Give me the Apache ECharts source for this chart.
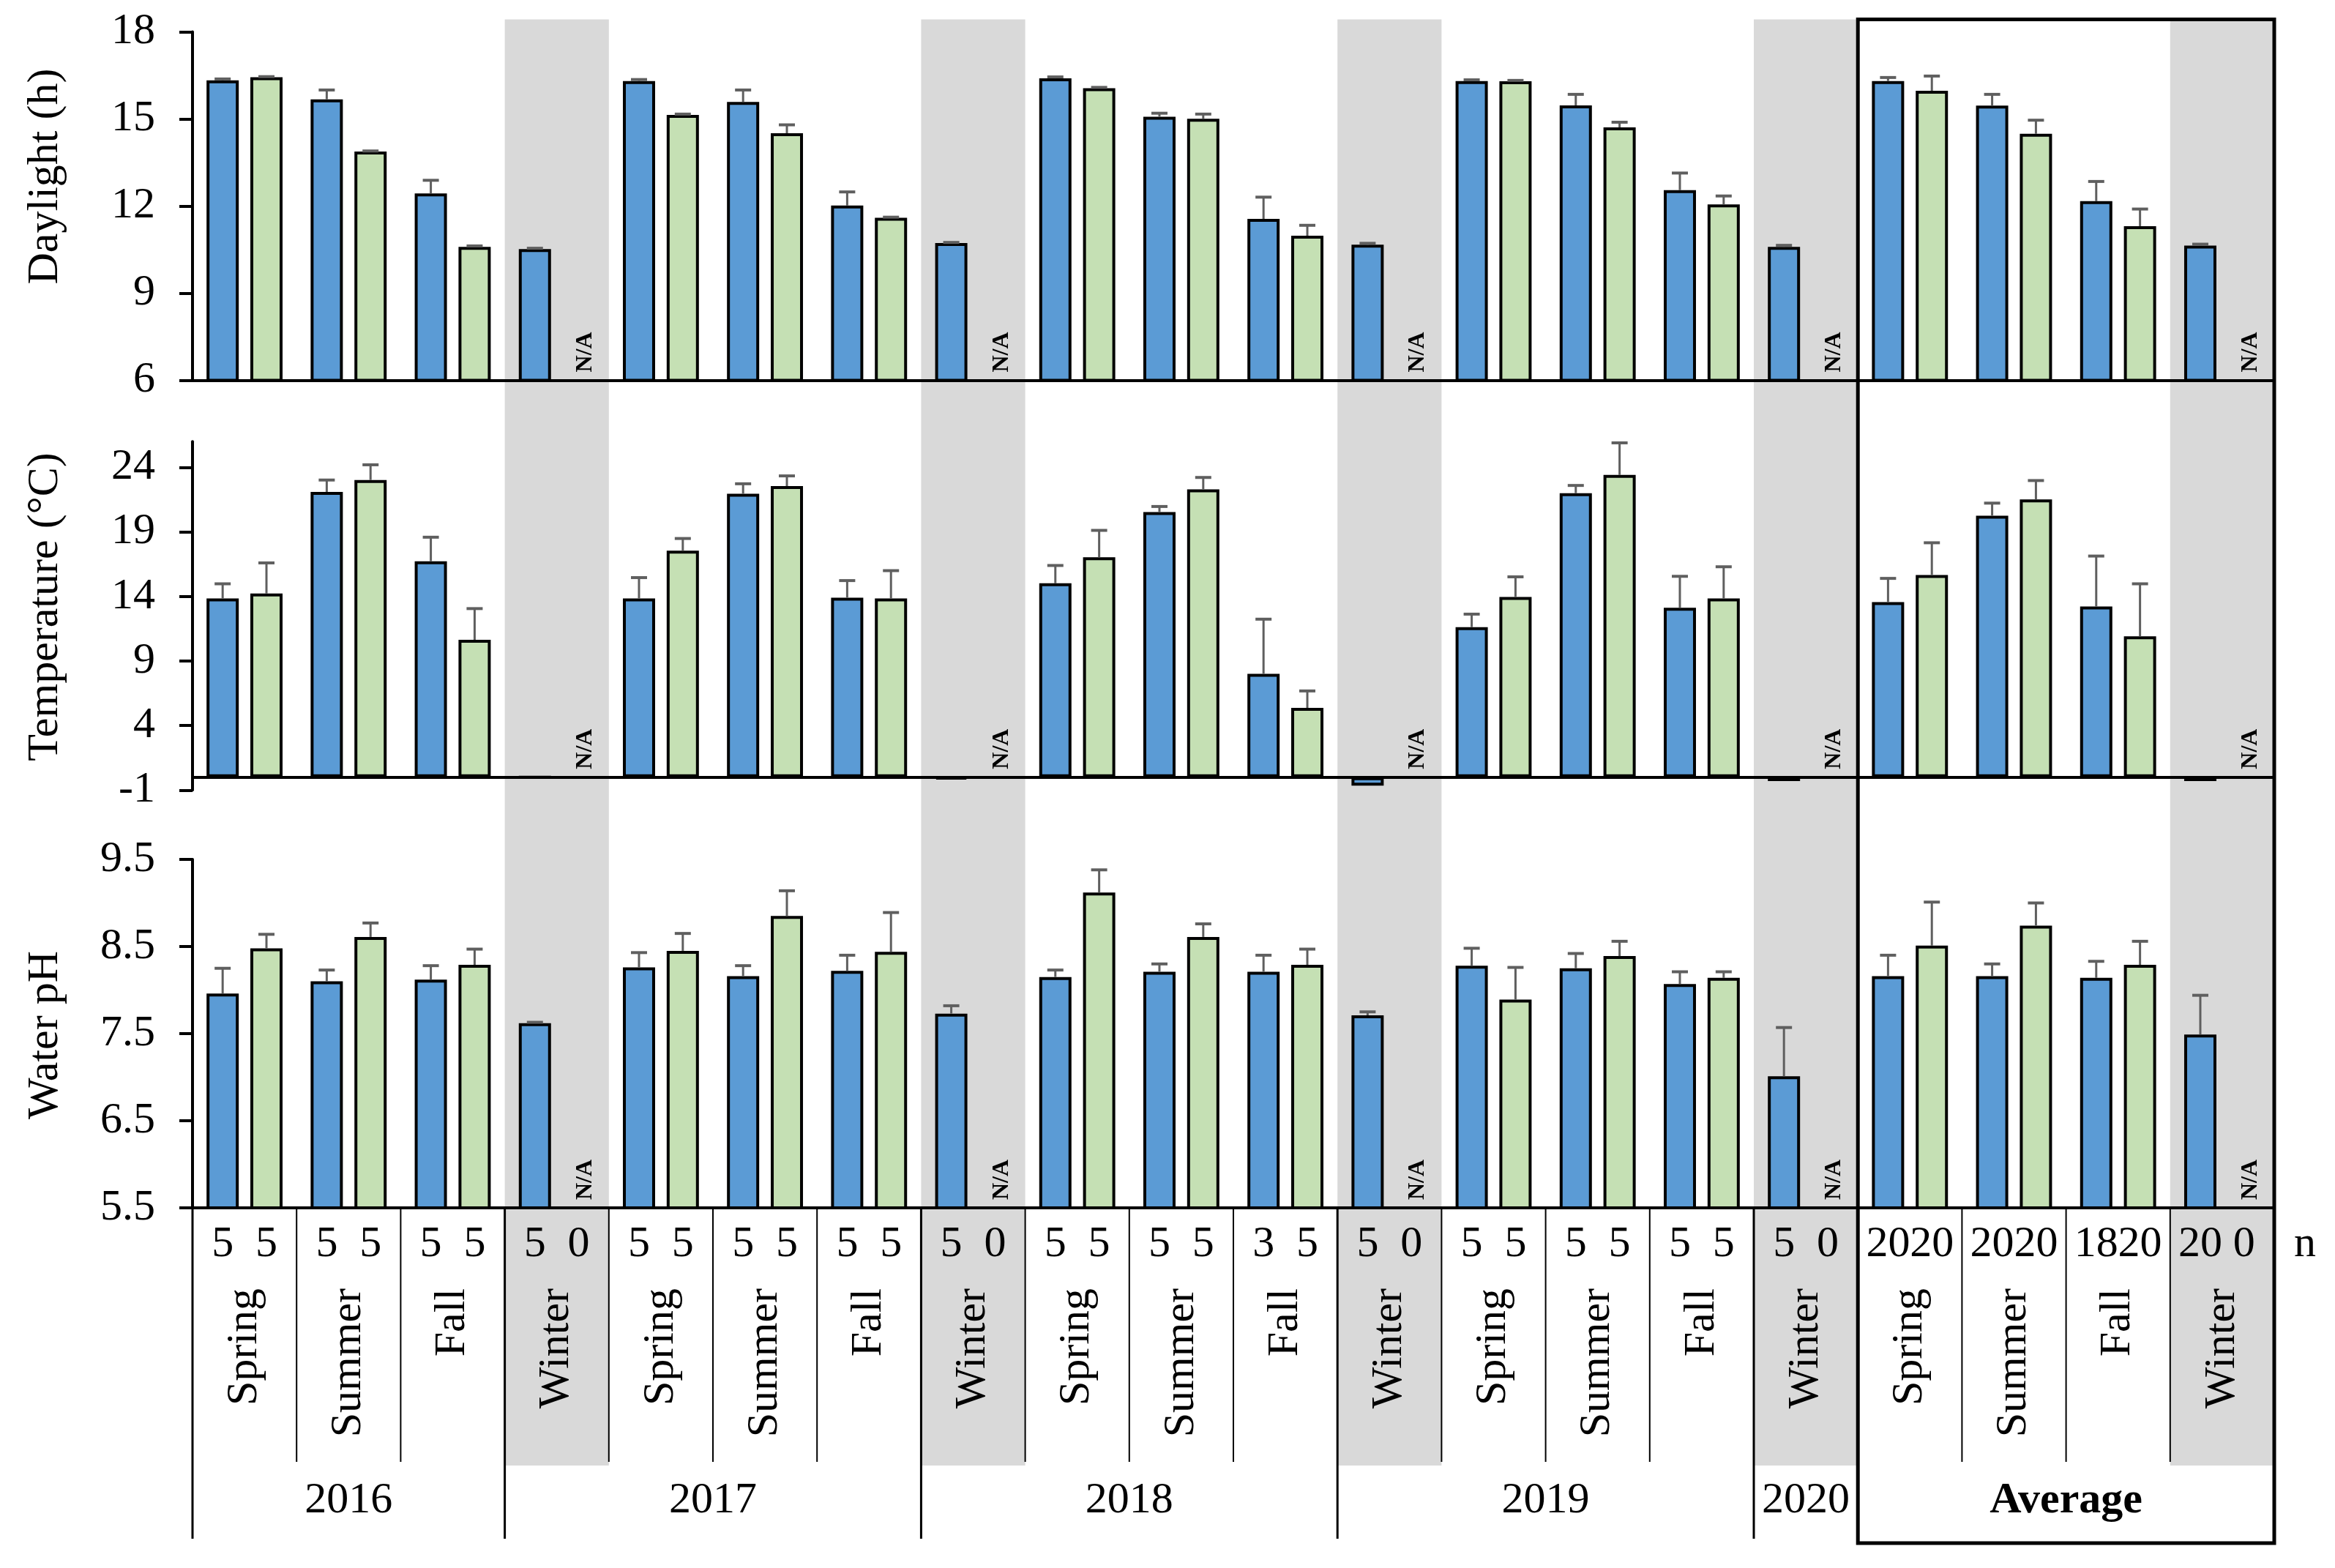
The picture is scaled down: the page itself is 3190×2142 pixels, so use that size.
<!DOCTYPE html>
<html><head><meta charset="utf-8">
<script src="https://cdn.jsdelivr.net/npm/echarts@6/dist/echarts.min.js"></script>
<style>html,body{margin:0;padding:0;background:#fff}#c{width:3190px;height:2142px}</style>
</head><body><div id="c"></div><script>
// ---------------- DATA ----------------
var seasons = ['Spring','Summer','Fall','Winter','Spring','Summer','Fall','Winter','Spring','Summer','Fall','Winter','Spring','Summer','Fall','Winter','Spring','Summer','Fall','Winter'];

var dayBlue    = [16.33, 15.68, 12.44, 10.52, 16.31, 15.59, 12.02, 10.73, 16.40, 15.08, 11.56, 10.67, 16.31, 15.47, 12.55, 10.60, 16.31, 15.46, 12.17, 10.64];
var dayBlueSD  = [0.05, 0.32, 0.45, 0.03, 0.05, 0.41, 0.47, 0.02, 0.05, 0.12, 0.75, 0.05, 0.04, 0.38, 0.59, 0.05, 0.12, 0.39, 0.68, 0.05];
var dayGreen   = [16.44, 13.88, 10.60, null, 15.14, 14.51, 11.60, null, 16.06, 15.01, 10.98, null, 16.30, 14.71, 12.06, null, 15.97, 14.49, 11.31, null];
var dayGreenSD = [0.02, 0.02, 0.03, null, 0.03, 0.29, 0.02, null, 0.03, 0.16, 0.36, null, 0.03, 0.18, 0.29, null, 0.51, 0.47, 0.59, null];

var tempBlue    = [13.84, 22.10, 16.73, 0, 13.84, 21.95, 13.90, -0.15, 15.02, 20.54, 8.00, -0.65, 11.62, 22.00, 13.12, -0.30, 13.57, 20.25, 13.22, -0.30];
var tempBlueSD  = [1.14, 0.92, 1.86, null, 1.62, 0.78, 1.33, null, 1.38, 0.43, 4.24, null, 1.01, 0.60, 2.44, null, 1.83, 0.98, 3.91, null];
var tempGreen   = [14.23, 23.02, 10.64, null, 17.55, 22.55, 13.84, null, 17.03, 22.30, 5.37, null, 13.96, 23.41, 13.84, null, 15.66, 21.52, 10.91, null];
var tempGreenSD = [2.37, 1.18, 2.42, null, 0.94, 0.79, 2.16, null, 2.09, 0.92, 1.31, null, 1.56, 2.49, 2.46, null, 2.50, 1.46, 4.07, null];

var phBlue    = [7.96, 8.10, 8.12, 7.62, 8.26, 8.16, 8.22, 7.73, 8.15, 8.21, 8.21, 7.71, 8.28, 8.25, 8.07, 7.01, 8.16, 8.16, 8.14, 7.49];
var phBlueSD  = [0.29, 0.13, 0.16, 0.01, 0.17, 0.12, 0.18, 0.09, 0.08, 0.09, 0.19, 0.04, 0.20, 0.17, 0.14, 0.56, 0.24, 0.14, 0.19, 0.45];
var phGreen   = [8.48, 8.61, 8.29, null, 8.45, 8.85, 8.44, null, 9.12, 8.61, 8.29, null, 7.89, 8.39, 8.14, null, 8.51, 8.74, 8.29, null];
var phGreenSD = [0.16, 0.16, 0.18, null, 0.20, 0.29, 0.45, null, 0.26, 0.15, 0.18, null, 0.37, 0.17, 0.07, null, 0.50, 0.26, 0.27, null];

var nBlue  = [5, 5, 5, 5, 5, 5, 5, 5, 5, 5, 3, 5, 5, 5, 5, 5, 20, 20, 18, 20];
var nGreen = [5, 5, 5, 0, 5, 5, 5, 0, 5, 5, 5, 0, 5, 5, 5, 0, 20, 20, 20, 0];

var yearLabels = ['2016', '2017', '2018', '2019', '2020', 'Average'];
var yearFirst  = [0, 3, 7, 11, 15, 16];
var yearLast   = [2, 6, 10, 14, 15, 19];

var dayTicks  = [6, 9, 12, 15, 18];
var tempTicks = [-1, 4, 9, 14, 19, 24];
var phTicks   = [5.5, 6.5, 7.5, 8.5, 9.5];
var panelTitles = ['Daylight (h)', 'Temperature (\u00B0C)', 'Water pH'];

// ---------------- STYLE / LAYOUT ----------------
var FONT = 'Liberation Serif';
var BLUE = '#5B9BD5', GREEN = '#C5E0B4', ERR = '#5f5f5f', SHADE = '#D9D9D9';
var BAR_W = 44, BAR_GAP = 0.36, HALF = BAR_W * (1 + BAR_GAP) / 2;
var GRID_LEFT = 263, GRID_W = 2844;

var panels = [
  {top: 43.6, height: 476, min: 6, max: 18, interval: 3, ticks: dayTicks, base: 6, fmt: function (v) { return String(v); },
   blue: dayBlue, blueSD: dayBlueSD, green: dayGreen, greenSD: dayGreenSD, titleY: 241},
  {top: 603.2, height: 476.1, min: -1, max: 26, interval: 5, ticks: tempTicks, base: 0, fmt: function (v) { return v > 24.5 ? '' : String(v); },
   blue: tempBlue, blueSD: tempBlueSD, green: tempGreen, greenSD: tempGreenSD, titleY: 829},
  {top: 1174, height: 476, min: 5.5, max: 9.5, interval: 1, ticks: phTicks, base: 5.5, fmt: function (v) { return v.toFixed(1); },
   blue: phBlue, blueSD: phBlueSD, green: phGreen, greenSD: phGreenSD, titleY: 1414}
];

function errRender(side) {
  return function (params, api) {
    var i = api.value(0), v = api.value(1), t = api.value(2);
    var p0 = api.coord([i, v]), p1 = api.coord([i, t]);
    var x = p0[0] + side * HALF;
    return {type: 'group', children: [
      {type: 'line', shape: {x1: x, y1: p0[1], x2: x, y2: p1[1]}, style: {stroke: ERR, lineWidth: 3}},
      {type: 'line', shape: {x1: x - 11, y1: p1[1], x2: x + 11, y2: p1[1]}, style: {stroke: ERR, lineWidth: 4}}
    ]};
  };
}
function naRender(params, api) {
  var p = api.coord([api.value(0), api.value(1)]);
  return {type: 'text', x: p[0] + HALF + 9, y: p[1] - 11, rotation: Math.PI / 2,
    style: {text: 'N/A', fontSize: 32, fontWeight: 'bold', fontFamily: FONT, fill: '#000', align: 'left', verticalAlign: 'middle'}};
}

var grids = [], xAxes = [], yAxes = [], series = [];
panels.forEach(function (p, k) {
  grids.push({left: GRID_LEFT, width: GRID_W, top: p.top, height: p.height});
  xAxes.push({gridIndex: k, type: 'category', data: seasons,
    axisLine: {show: true, onZero: true, lineStyle: {color: '#000', width: 4}},
    axisTick: {show: false}, axisLabel: {show: false}, splitLine: {show: false}});
  yAxes.push({gridIndex: k, type: 'value', min: p.min, max: p.max, interval: p.interval,
    axisLine: {show: true, onZero: false, lineStyle: {color: '#000', width: 4}},
    axisTick: {show: true, length: 18, customValues: p.ticks, lineStyle: {color: '#000', width: 4}},
    axisLabel: {fontSize: 60, fontFamily: FONT, color: '#000', margin: 51, customValues: p.ticks, formatter: p.fmt},
    splitLine: {show: false}});
  series.push({type: 'bar', xAxisIndex: k, yAxisIndex: k, data: p.blue, barWidth: BAR_W, barGap: (BAR_GAP * 100) + '%',
    itemStyle: {color: BLUE, borderColor: '#000', borderWidth: 4}, z: 2});
  series.push({type: 'bar', xAxisIndex: k, yAxisIndex: k, data: p.green, barWidth: BAR_W, barGap: (BAR_GAP * 100) + '%',
    itemStyle: {color: GREEN, borderColor: '#000', borderWidth: 4}, z: 2});
  var eb = [], eg = [], na = [];
  for (var i = 0; i < seasons.length; i++) {
    if (p.blue[i] != null && p.blueSD[i] != null) eb.push([i, p.blue[i], p.blue[i] + p.blueSD[i]]);
    if (p.green[i] != null && p.greenSD[i] != null) eg.push([i, p.green[i], p.green[i] + p.greenSD[i]]);
    if (p.green[i] == null) na.push([i, p.base]);
  }
  series.push({type: 'custom', xAxisIndex: k, yAxisIndex: k, data: eb, renderItem: errRender(-1), encode: {x: 0, y: [1, 2]}, z: 5, silent: true});
  series.push({type: 'custom', xAxisIndex: k, yAxisIndex: k, data: eg, renderItem: errRender(1), encode: {x: 0, y: [1, 2]}, z: 5, silent: true});
  series.push({type: 'custom', xAxisIndex: k, yAxisIndex: k, data: na, renderItem: naRender, encode: {x: 0, y: 1}, z: 6, silent: true});
});

var chart = echarts.init(document.getElementById('c'), null, {renderer: 'canvas'});
chart.setOption({animation: false, backgroundColor: '#fff', textStyle: {fontFamily: FONT}, grid: grids, xAxis: xAxes, yAxis: yAxes, series: series});

// ---------------- TABLE / DECORATION (positions from the axes) ----------------
var c0 = chart.convertToPixel({xAxisIndex: 2}, 0);
var c1 = chart.convertToPixel({xAxisIndex: 2}, 1);
var bw = c1 - c0;
var left = c0 - bw / 2;
var yTop = chart.convertToPixel({yAxisIndex: 0}, 18) - 17;
var phBase = chart.convertToPixel({yAxisIndex: 2}, 5.5);
var yN = phBase + 50, ySeason = phBase + 110, yBandEnd = phBase + 352, ySeasonLineEnd = phBase + 347,
    yYearLineEnd = phBase + 452, yYear = phBase + 400, yBoxEnd = phBase + 458;

function txt(t, x, y, opts) {
  opts = opts || {};
  return {type: 'text', x: x, y: y, rotation: opts.rot || 0, z: 10, silent: true,
    style: {text: t, fontSize: opts.size || 60, fontFamily: FONT, fontWeight: opts.bold ? 'bold' : 'normal', fill: '#000',
      align: opts.align || 'center', verticalAlign: 'middle'}};
}
function line(x1, y1, x2, y2, w) {
  return {type: 'line', z: 10, silent: true, shape: {x1: x1, y1: y1, x2: x2, y2: y2}, style: {stroke: '#000', lineWidth: w}};
}

var g = [];
var isYearStart = {};
yearFirst.forEach(function (f) { isYearStart[f] = true; });
for (var i = 0; i < seasons.length; i++) {
  var cx = chart.convertToPixel({xAxisIndex: 2}, i);
  if (seasons[i] === 'Winter') {
    g.push({type: 'rect', z: -1, silent: true, shape: {x: cx - bw / 2, y: yTop, width: bw, height: yBandEnd - yTop}, style: {fill: SHADE}});
  }
  g.push(txt(String(nBlue[i]), cx - HALF, yN));
  g.push(txt(String(nGreen[i]), cx + HALF, yN));
  g.push(txt(seasons[i], cx, ySeason, {rot: Math.PI / 2, align: 'right'}));
  var bx = cx - bw / 2;
  if (isYearStart[i]) {
    if (i !== 16) g.push(line(bx, phBase, bx, yYearLineEnd, 3));
  } else {
    g.push(line(bx, phBase, bx, ySeasonLineEnd, 2));
  }
}
for (var y = 0; y < yearLabels.length; y++) {
  var xa = left + yearFirst[y] * bw, xb = left + (yearLast[y] + 1) * bw;
  g.push(txt(yearLabels[y], (xa + xb) / 2, yYear, {bold: yearLabels[y] === 'Average'}));
}
g.push({type: 'rect', z: 12, silent: true, shape: {x: left + 16 * bw, y: yTop, width: 4 * bw, height: yBoxEnd - yTop},
  style: {fill: 'none', stroke: '#000', lineWidth: 5}});
g.push(txt('n', left + 20 * bw + 42, yN));
panels.forEach(function (p, k) {
  g.push(txt(panelTitles[k], 62, p.titleY, {rot: Math.PI / 2}));
});
chart.setOption({graphic: {elements: g}});
</script></body></html>
